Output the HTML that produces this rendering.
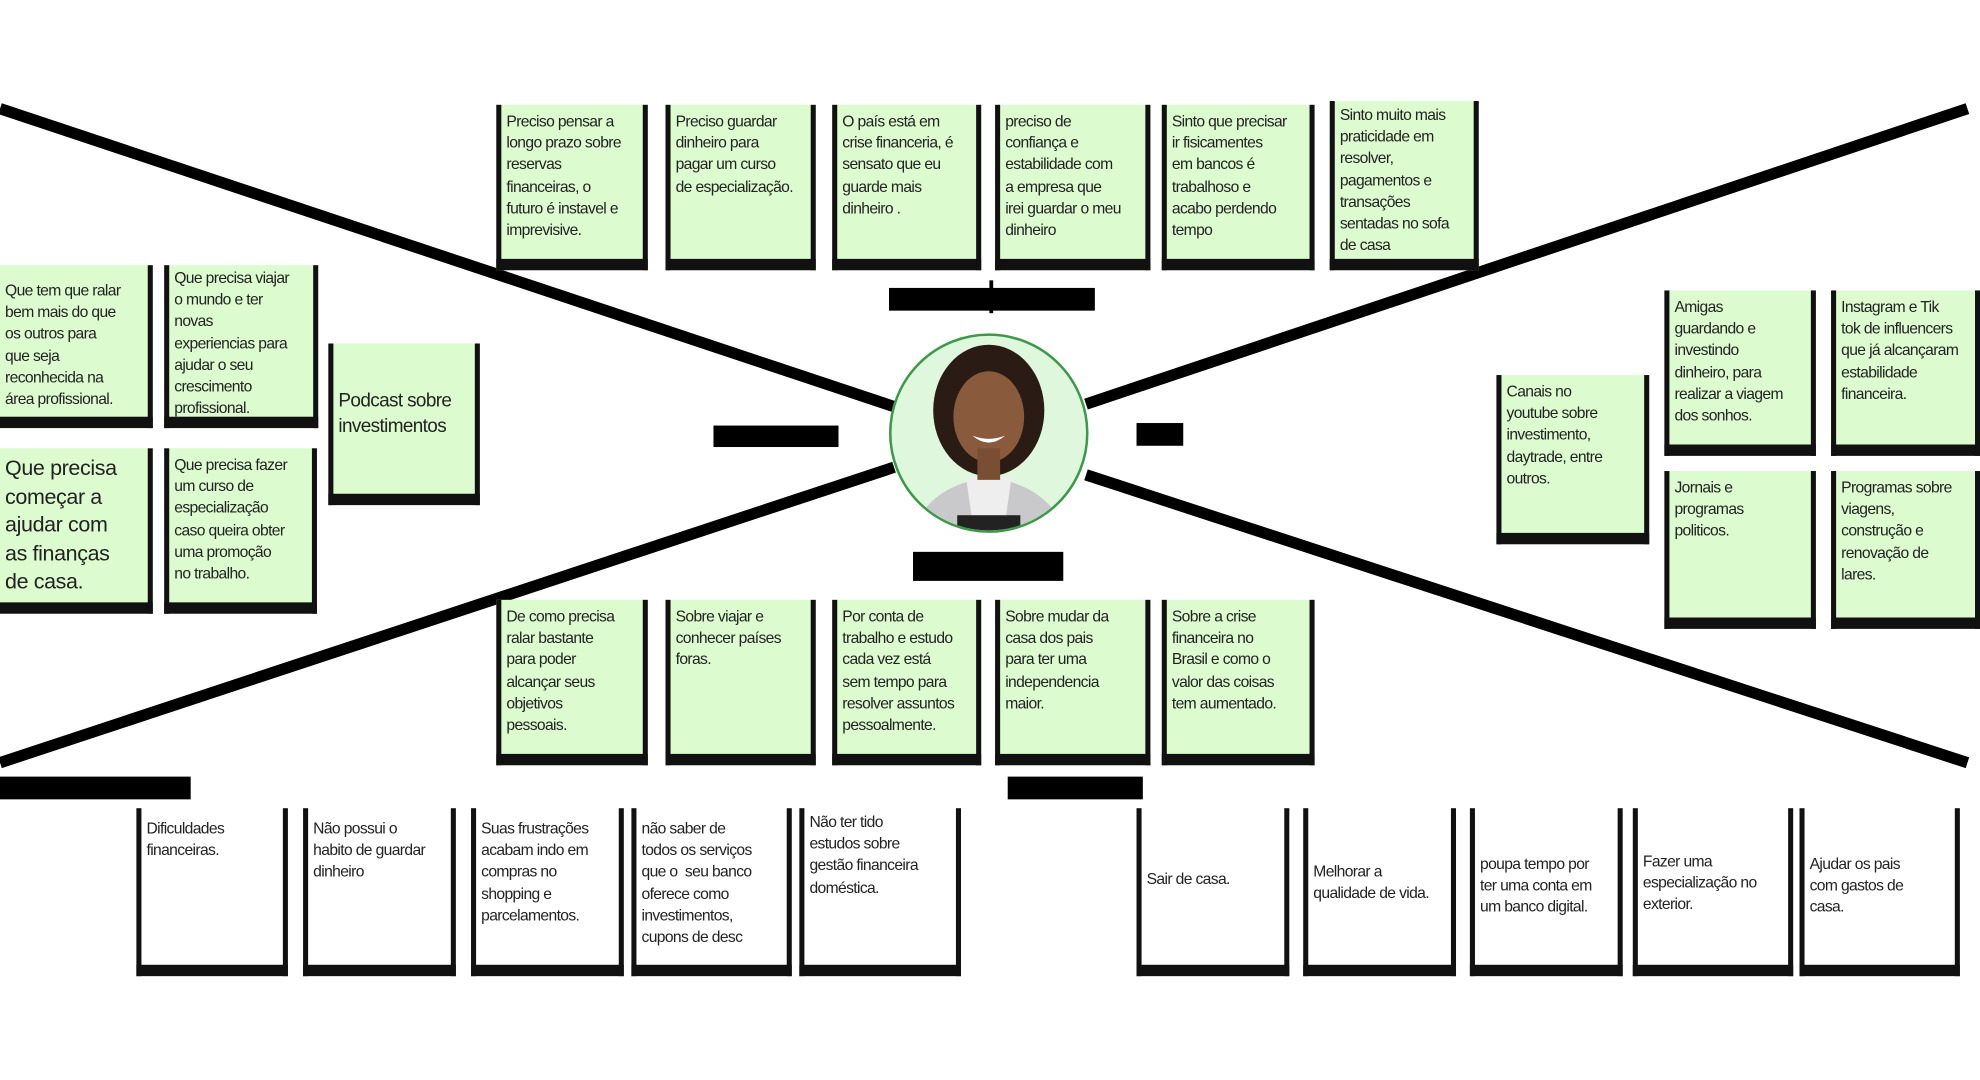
<!DOCTYPE html>
<html><head><meta charset="utf-8">
<style>
html,body{margin:0;padding:0;background:#fff;width:1980px;height:1080px;overflow:hidden}
#w{position:absolute;left:0;top:0;width:1568px;height:855px;transform:scale(1.2628);transform-origin:0 0;font-family:"Liberation Sans",sans-serif}
.n{position:absolute;box-sizing:border-box;background:#dcfccf;border-left:4px solid #111;border-right:4px solid #111;border-bottom:9px solid #111;padding:5px 2px 0 4px;font-size:12.4px;line-height:17.2px;color:#222;letter-spacing:-0.5px;overflow:hidden;white-space:nowrap}
.wt{background:#fff}
.lb{position:absolute;background:#000;color:#000;font-weight:bold;font-size:14px;line-height:18px;overflow:hidden;text-align:center}
</style></head><body><div id="w">
<svg width="1568" height="855" style="position:absolute;left:0;top:0">
<g stroke="#000" stroke-width="9" fill="none">
<line x1="0" y1="86" x2="708" y2="322"/>
<line x1="860" y1="320" x2="1558" y2="86"/>
<line x1="0" y1="604" x2="708" y2="370"/>
<line x1="860" y1="376" x2="1558" y2="604"/>
<line x1="785" y1="222" x2="785" y2="248" stroke-width="3"/>
</g>
<circle cx="783" cy="343" r="78" fill="#dff7dc" stroke="#3b9a48" stroke-width="2"/>
<clipPath id="c"><circle cx="783" cy="343" r="77"/></clipPath>
<g clip-path="url(#c)">
<ellipse cx="783" cy="325" rx="44" ry="52" fill="#2a1c15"/>
<path d="M720 430 Q730 385 783 378 Q836 385 846 430 Z" fill="#c9c9cc"/>
<path d="M765 378 L801 378 L795 420 L771 420 Z" fill="#eee"/>
<ellipse cx="783" cy="330" rx="28" ry="36" fill="#8a5a3c"/>
<rect x="774" y="355" width="18" height="25" fill="#7a4e33"/>
<path d="M770 345 Q783 356 796 345 Q783 350 770 345" fill="#fff"/>
<rect x="758" y="408" width="50" height="20" fill="#222"/>
</g>
</svg>

<div class="lb" style="left:704px;top:228px;width:163px;height:18px">PENSA E SENTE</div>
<div class="lb" style="left:565px;top:337px;width:99px;height:17px">ESCUTA</div>
<div class="lb" style="left:900px;top:335px;width:37px;height:18px">VÊ</div>
<div class="lb" style="left:723px;top:437px;width:119px;height:23px">FALA E FAZ</div>
<div class="lb" style="left:0;top:615px;width:151px;height:18px">DORES</div>
<div class="lb" style="left:798px;top:615px;width:107px;height:18px">GANHOS</div>

<div class="n" style="left:393px;top:83px;width:120px;height:131px">Preciso pensar a<br>longo prazo sobre<br>reservas<br>financeiras, o<br>futuro é instavel e<br>imprevisive.</div>
<div class="n" style="left:527px;top:83px;width:119px;height:131px">Preciso guardar<br>dinheiro para<br>pagar um curso<br>de especialização.</div>
<div class="n" style="left:659px;top:83px;width:118px;height:131px">O país está em<br>crise financeria, é<br>sensato que eu<br>guarde mais<br>dinheiro .</div>
<div class="n" style="left:788px;top:83px;width:123px;height:131px">preciso de<br>confiança e<br>estabilidade com<br>a empresa que<br>irei guardar o meu<br>dinheiro</div>
<div class="n" style="left:920px;top:83px;width:121px;height:131px">Sinto que precisar<br>ir fisicamentes<br>em bancos é<br>trabalhoso e<br>acabo perdendo<br>tempo</div>
<div class="n" style="left:1053px;top:80px;width:118px;height:134px;padding-top:3px">Sinto muito mais<br>praticidade em<br>resolver,<br>pagamentos e<br>transações<br>sentadas no sofa<br>de casa</div>

<div class="n" style="left:0;top:210px;width:121px;height:129px;border-left:0;padding-top:12px">Que tem que ralar<br>bem mais do que<br>os outros para<br>que seja<br>reconhecida na<br>área profissional.</div>
<div class="n" style="left:130px;top:210px;width:122px;height:129px;padding-top:2px">Que precisa viajar<br>o mundo e ter<br>novas<br>experiencias para<br>ajudar o seu<br>crescimento<br>profissional.</div>
<div class="n" style="left:260px;top:272px;width:120px;height:128px;font-size:15px;line-height:20px;padding-top:36px">Podcast sobre<br>investimentos</div>
<div class="n" style="left:0;top:355px;width:121px;height:131px;border-left:0;font-size:17px;line-height:22.5px;letter-spacing:-0.3px">Que precisa<br>começar a<br>ajudar com<br>as finanças<br>de casa.</div>
<div class="n" style="left:130px;top:355px;width:121px;height:131px">Que precisa fazer<br>um curso de<br>especialização<br>caso queira obter<br>uma promoção<br>no trabalho.</div>

<div class="n" style="left:393px;top:475px;width:120px;height:131px">De como precisa<br>ralar bastante<br>para poder<br>alcançar seus<br>objetivos<br>pessoais.</div>
<div class="n" style="left:527px;top:475px;width:119px;height:131px">Sobre viajar e<br>conhecer países<br>foras.</div>
<div class="n" style="left:659px;top:475px;width:118px;height:131px">Por conta de<br>trabalho e estudo<br>cada vez está<br>sem tempo para<br>resolver assuntos<br>pessoalmente.</div>
<div class="n" style="left:788px;top:475px;width:123px;height:131px">Sobre mudar da<br>casa dos pais<br>para ter uma<br>independencia<br>maior.</div>
<div class="n" style="left:920px;top:475px;width:121px;height:131px">Sobre a crise<br>financeira no<br>Brasil e como o<br>valor das coisas<br>tem aumentado.</div>

<div class="n" style="left:1185px;top:297px;width:121px;height:134px">Canais no<br>youtube sobre<br>investimento,<br>daytrade, entre<br>outros.</div>
<div class="n" style="left:1318px;top:230px;width:120px;height:131px">Amigas<br>guardando e<br>investindo<br>dinheiro, para<br>realizar a viagem<br>dos sonhos.</div>
<div class="n" style="left:1450px;top:230px;width:118px;height:131px">Instagram e Tik<br>tok de influencers<br>que já alcançaram<br>estabilidade<br>financeira.</div>
<div class="n" style="left:1318px;top:373px;width:120px;height:125px">Jornais e<br>programas<br>politicos.</div>
<div class="n" style="left:1450px;top:373px;width:118px;height:125px">Programas sobre<br>viagens,<br>construção e<br>renovação de<br>lares.</div>

<div class="n wt" style="left:108px;top:640px;width:120px;height:133px;padding-top:8px">Dificuldades<br>financeiras.</div>
<div class="n wt" style="left:240px;top:640px;width:121px;height:133px;padding-top:8px">Não possui o<br>habito de guardar<br>dinheiro</div>
<div class="n wt" style="left:373px;top:640px;width:121px;height:133px;padding-top:8px">Suas frustrações<br>acabam indo em<br>compras no<br>shopping e<br>parcelamentos.</div>
<div class="n wt" style="left:500px;top:640px;width:127px;height:133px;padding-top:8px">não saber de<br>todos os serviços<br>que o&nbsp; seu banco<br>oferece como<br>investimentos,<br>cupons de desc</div>
<div class="n wt" style="left:633px;top:640px;width:128px;height:133px;padding-top:3px">Não ter tido<br>estudos sobre<br>gestão financeira<br>doméstica.</div>

<div class="n wt" style="left:900px;top:640px;width:121px;height:133px;padding-top:48px">Sair de casa.</div>
<div class="n wt" style="left:1032px;top:640px;width:121px;height:133px;padding-top:42px">Melhorar a<br>qualidade de vida.</div>
<div class="n wt" style="left:1164px;top:640px;width:121px;height:133px;padding-top:36px">poupa tempo por<br>ter uma conta em<br>um banco digital.</div>
<div class="n wt" style="left:1293px;top:640px;width:127px;height:133px;padding-top:34px">Fazer uma<br>especialização no<br>exterior.</div>
<div class="n wt" style="left:1425px;top:640px;width:127px;height:133px;padding-top:36px">Ajudar os pais<br>com gastos de<br>casa.</div>
</div></body></html>
